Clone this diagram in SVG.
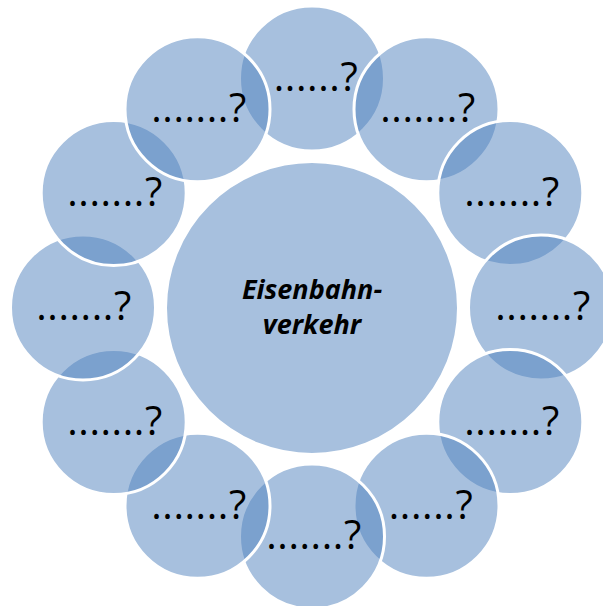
<svg xmlns="http://www.w3.org/2000/svg" width="603" height="606" viewBox="0 0 603 606">
<style>
.c{fill:#4F81BD;fill-opacity:0.5;stroke:#FFFFFF;stroke-width:3}
.t{font-family:"Open Sans","DejaVu Sans",sans-serif;font-size:40px;fill:#000000;text-anchor:middle;letter-spacing:0.6px}
.m{font-family:"Open Sans","DejaVu Sans",sans-serif;font-size:27px;font-weight:bold;font-style:italic;fill:#000000;text-anchor:middle}
</style>
<rect width="603" height="606" fill="#FFFFFF"/>
<g id="center">
<circle class="c" cx="312" cy="308" r="146.5"/>
<text class="m" x="312" y="299">Eisenbahn-</text>
<text class="m" x="312" y="334">verkehr</text>
</g>
<g id="n1"><circle class="c" cx="312" cy="78.5" r="72.5"/><text class="t" x="316" y="91">......?</text></g>
<g id="n2"><circle class="c" cx="426.5" cy="109.2" r="72.5"/><text class="t" x="428" y="122">.......?</text></g>
<g id="n3"><circle class="c" cx="510.3" cy="193" r="72.5"/><text class="t" x="512" y="206">.......?</text></g>
<g id="n4"><circle class="c" cx="541" cy="307.5" r="72.5"/><text class="t" x="543" y="320">.......?</text></g>
<g id="n5"><circle class="c" cx="510.3" cy="422" r="72.5"/><text class="t" x="512" y="435">.......?</text></g>
<g id="n6"><circle class="c" cx="426.5" cy="505.8" r="72.5"/><text class="t" x="431" y="519">......?</text></g>
<g id="n7"><circle class="c" cx="312" cy="536.5" r="72.5"/><text class="t" x="314" y="549">.......?</text></g>
<g id="n8"><circle class="c" cx="197.5" cy="505.8" r="72.5"/><text class="t" x="199" y="519">.......?</text></g>
<g id="n9"><circle class="c" cx="113.7" cy="422" r="72.5"/><text class="t" x="115" y="435">.......?</text></g>
<g id="n10"><circle class="c" cx="83" cy="307.5" r="72.5"/><text class="t" x="84" y="320">.......?</text></g>
<g id="n11"><circle class="c" cx="113.7" cy="193" r="72.5"/><text class="t" x="115" y="206">.......?</text></g>
<g id="n12"><circle class="c" cx="197.5" cy="109.2" r="72.5"/><text class="t" x="199" y="122">.......?</text></g>
<g id="connectors"></g>
</svg>
